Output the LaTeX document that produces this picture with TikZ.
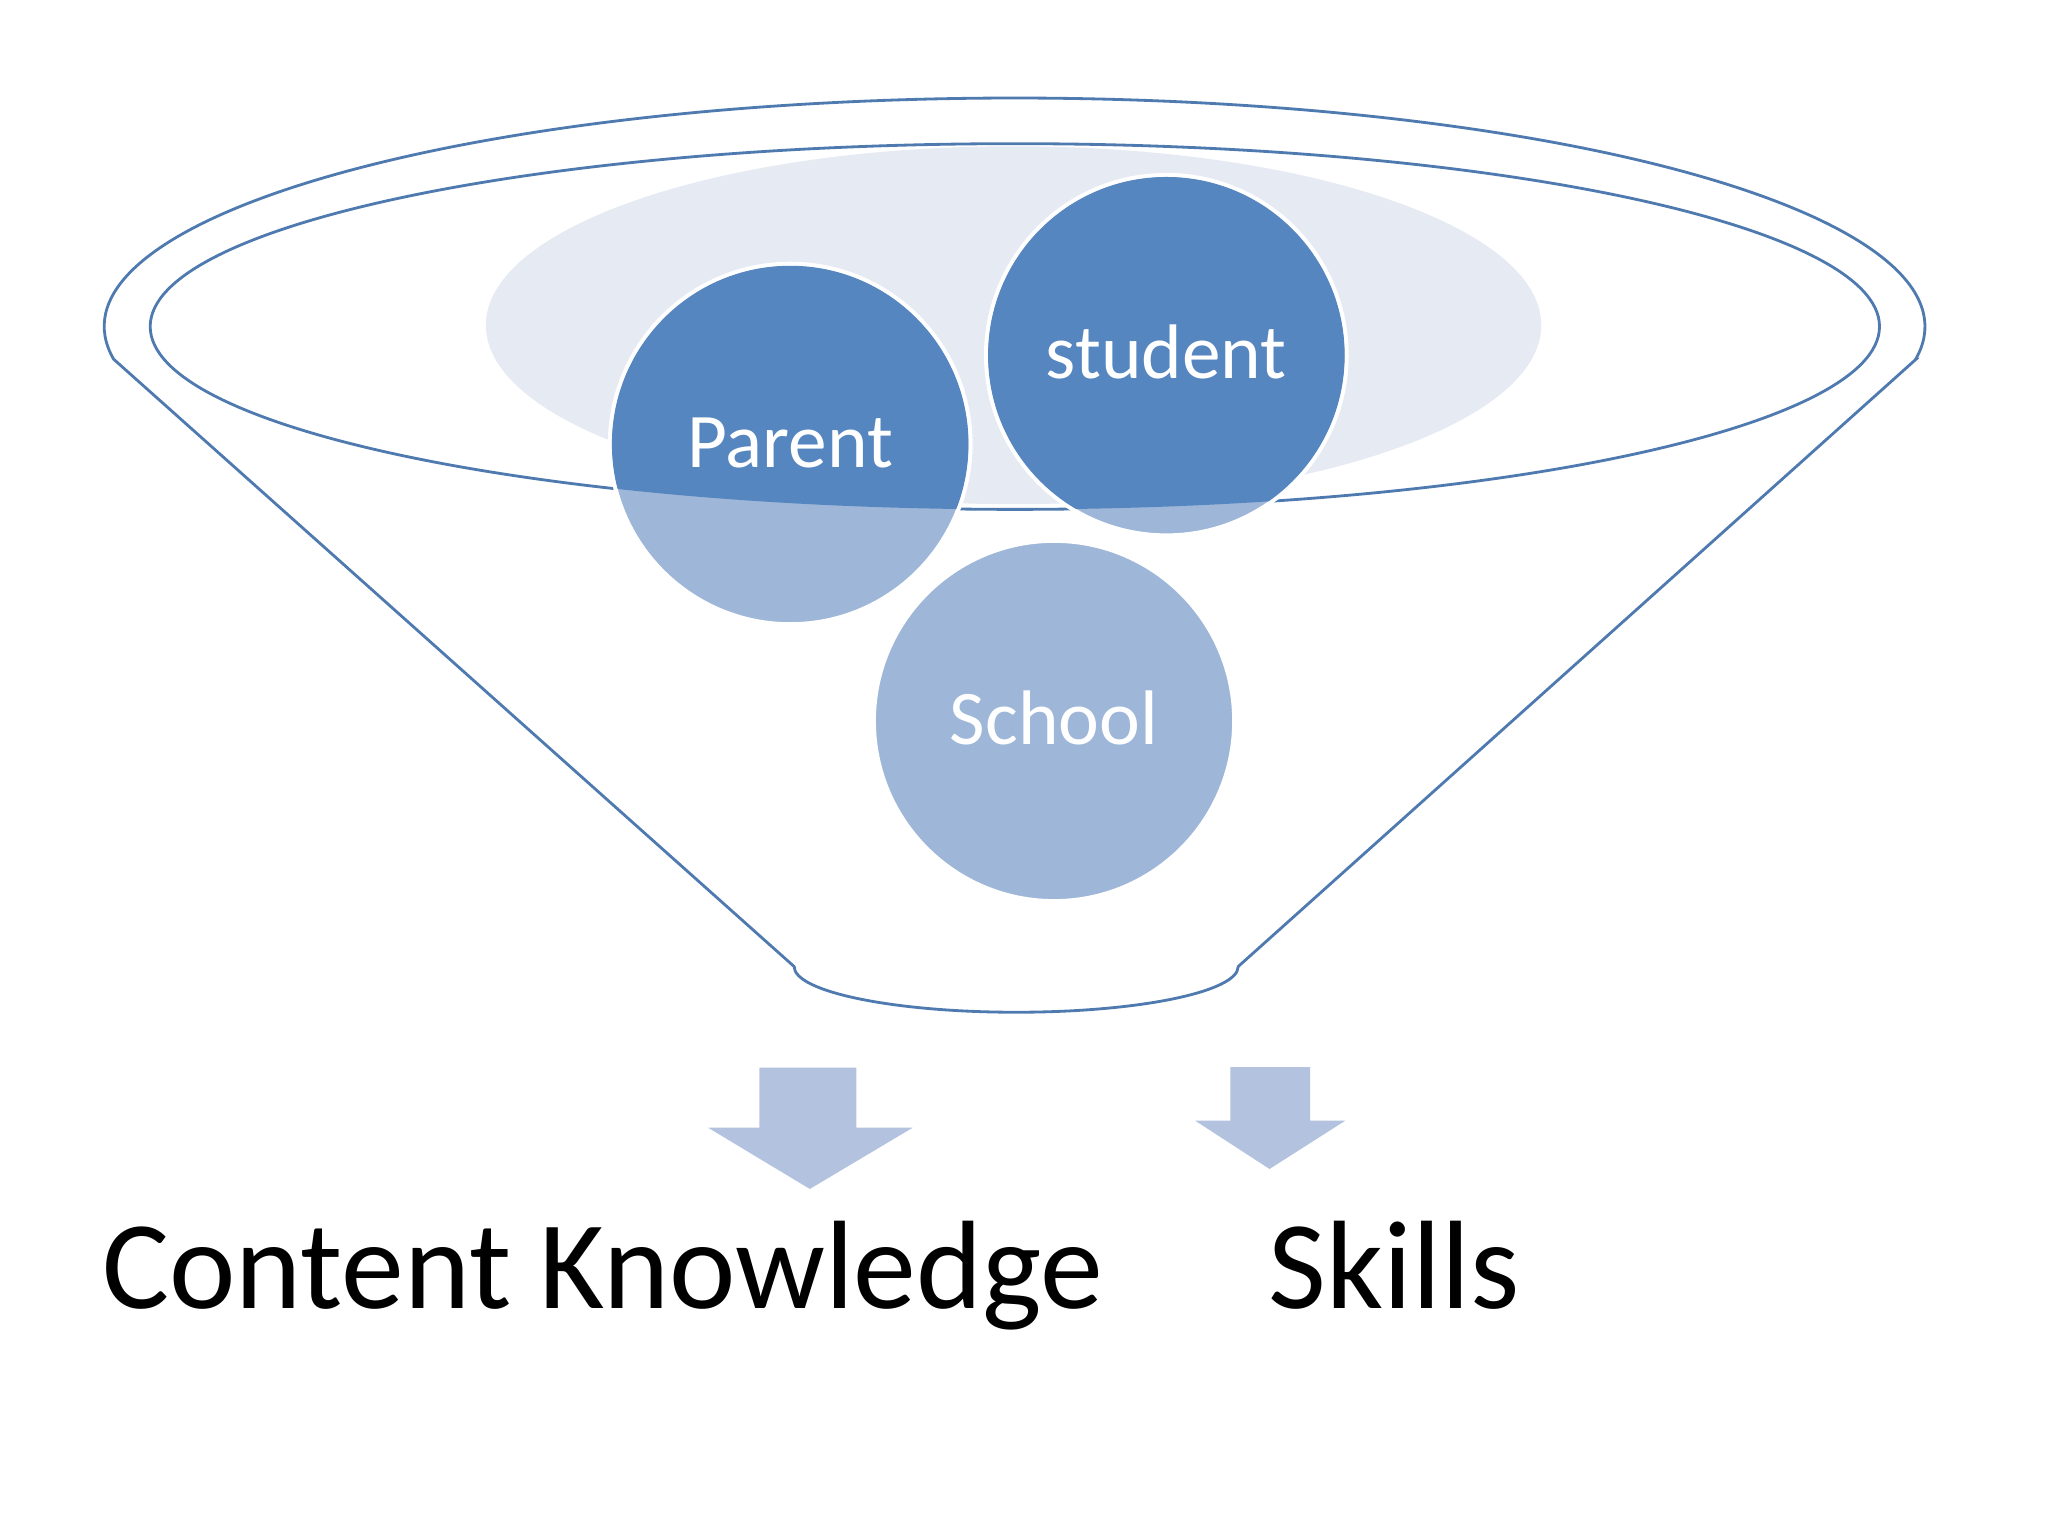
\documentclass[tikz,border=0pt]{standalone}
\usepackage{fontspec}
\setmainfont{Carlito}
\usetikzlibrary{positioning}
\definecolor{rimblue}{RGB}{79,122,176}
\definecolor{darkdisc}{RGB}{86,134,192}
\definecolor{lightdisc}{RGB}{158,183,217}
\definecolor{haze}{RGB}{230,234,243}
\definecolor{arrowfill}{RGB}{179,195,223}

\begin{document}
\begin{tikzpicture}[
  x=0.013061cm, y=-0.013061cm,
  rim/.style={draw=rimblue, line width=0.8pt},
  disc/.style={
    circle,
    fill=lightdisc,
    draw=white,
    line width=1.2pt,
    inner sep=0pt,
    minimum size=3.605cm
  },
  disclabel/.style={
    text=white,
    anchor=base,
    inner sep=0pt,
    font=\fontsize{22}{26}\selectfont
  },
  outcome/.style={
    anchor=base west,
    inner sep=0pt,
    font=\fontsize{35.8}{42}\selectfont
  },
  downarrow/.style={fill=arrowfill}
]
\fill[white] (0,0) rectangle (1568,1176);
\useasboundingbox (0,0) rectangle (1568,1176);

% funnel
\fill[haze] (776,249) ellipse[x radius=404, y radius=137];
\draw[rim] (777,250) ellipse[x radius=662, y radius=140];
\draw[rim] (1467,275) -- (948,740)
  arc[start angle=0, end angle=180, x radius=170, y radius=35]
  -- (87,275)
  arc[start angle=171.8, end angle=368.2, x radius=697, y radius=175]
  -- cycle;

% discs
\node[disc] (parent) at (605,340) {};
\node[disc] (student) at (893,272) {};
\node[disc] (school) at (807,552) {};
\begin{scope}
  \clip (777,250) ellipse[x radius=662, y radius=140];
  \fill[darkdisc] (parent.center) circle[radius=136.5];
  \fill[darkdisc] (student.center) circle[radius=136.5];
\end{scope}
\node[disclabel] at (605,358) {Parent};
\node[disclabel] at (893,290) {student};
\node[disclabel] at (807,570) {School};

% arrows
\draw[downarrow, draw=white, line width=1pt] (580,816) -- (657,816) -- (657,862) -- (704,862)
  -- (620,912) -- (537,862) -- (580,862) -- cycle;
\fill[downarrow] (942,817) -- (1003,817) -- (1003,858) -- (1030,858)
  -- (972,895) -- (915,858) -- (942,858) -- cycle;

\node[outcome] (content) at (78,1002) {Content Knowledge};
\node[outcome] (skills) at (971,1002) {Skills};
\end{tikzpicture}
\end{document}
